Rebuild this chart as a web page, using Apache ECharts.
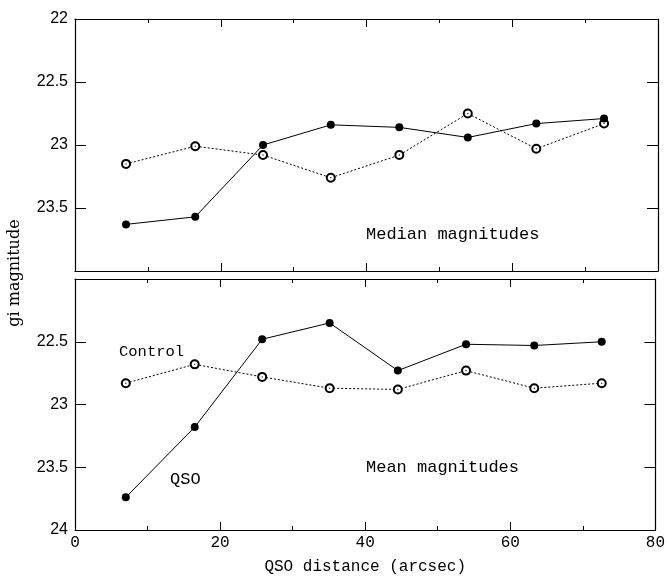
<!DOCTYPE html>
<html>
<head>
<meta charset="utf-8">
<script src="https://cdn.jsdelivr.net/npm/echarts@6/dist/echarts.min.js"></script>
<style>html,body{margin:0;padding:0;background:#fff;}#chart{width:668px;height:576px;}</style>
</head>
<body>
<div id="chart"></div>
<script>
const distance = [7.0, 16.5, 25.8, 35.1, 44.5, 53.9, 63.3, 72.6];
const qsoMedian = [23.63, 23.57, 23.00, 22.84, 22.86, 22.94, 22.83, 22.79];
const controlMedian = [23.15, 23.01, 23.08, 23.26, 23.08, 22.75, 23.03, 22.83];
const qsoMean = [23.74, 23.18, 22.48, 22.35, 22.73, 22.52, 22.53, 22.50];
const controlMean = [22.83, 22.68, 22.78, 22.87, 22.88, 22.73, 22.87, 22.83];
const xTicks = {min: 0, max: 80, interval: 20};
const yTicks = {min: 22, max: 24, interval: 0.5};

const pair = (xs, ys) => xs.map((x, i) => [x, ys[i]]);
const mono = '"Liberation Mono", "DejaVu Sans Mono", monospace';
const sans = '"Liberation Sans", Arial, sans-serif';

function xAx(gridIndex, position, showLabels) {
  return {
    type: 'value', gridIndex, position,
    min: xTicks.min, max: xTicks.max, interval: xTicks.interval,
    axisLine: {show: true, onZero: false, lineStyle: {color: '#000', width: 1.2}},
    axisTick: {show: true, inside: true, length: 8, lineStyle: {color: '#000'}},
    minorTick: {show: true, splitNumber: 2, length: 4, lineStyle: {color: '#000'}},
    splitLine: {show: false},
    axisLabel: {show: showLabels, color: '#000', fontFamily: mono, fontSize: 16, margin: 5},
    name: showLabels ? 'QSO distance (arcsec)' : '',
    nameLocation: 'middle', nameGap: 29,
    nameTextStyle: {color: '#000', fontFamily: mono, fontSize: 16}
  };
}
function yAx(gridIndex, position, showLabels, hideMin, hideMax) {
  return {
    type: 'value', gridIndex, position, inverse: true,
    min: yTicks.min, max: yTicks.max, interval: yTicks.interval,
    axisLine: {show: true, onZero: false, lineStyle: {color: '#000', width: 1.2}},
    axisTick: {show: true, inside: true, length: 11, lineStyle: {color: '#000'}},
    splitLine: {show: false},
    axisLabel: {show: showLabels, color: '#000', fontFamily: sans, fontSize: 16, margin: 7,
      showMinLabel: !hideMin, showMaxLabel: !hideMax}
  };
}
function qsoSeries(x, y, data) {
  return {type: 'line', xAxisIndex: x, yAxisIndex: y, data,
    symbol: 'circle', symbolSize: 8, itemStyle: {color: '#000'},
    lineStyle: {color: '#000', width: 1}, z: 3};
}
function ctrlSeries(x, y, data) {
  return [{type: 'line', xAxisIndex: x, yAxisIndex: y, data,
    symbol: 'emptyCircle', symbolSize: 8, itemStyle: {color: '#000', borderWidth: 0.9},
    lineStyle: {color: '#000', width: 1, type: [2, 2]}, z: 2},
  {type: 'scatter', xAxisIndex: x, yAxisIndex: y, data,
    symbol: 'circle', symbolSize: 1.5, itemStyle: {color: '#000'}, z: 4}];
}

const chart = echarts.init(document.getElementById('chart'), null, {renderer: 'canvas'});
chart.setOption({
  animation: false,
  backgroundColor: '#fff',
  grid: [
    {left: 75, right: 10, top: 19, height: 252},
    {left: 75, right: 10, top: 279, height: 252}
  ],
  xAxis: [xAx(0, 'bottom', false), xAx(0, 'top', false), xAx(1, 'bottom', true), xAx(1, 'top', false)],
  yAxis: [yAx(0, 'left', true, false, true), yAx(0, 'right', false), yAx(1, 'left', true, true, false), yAx(1, 'right', false)],
  series: [
    qsoSeries(0, 0, pair(distance, qsoMedian)),
    ...ctrlSeries(0, 0, pair(distance, controlMedian)),
    qsoSeries(2, 2, pair(distance, qsoMean)),
    ...ctrlSeries(2, 2, pair(distance, controlMean))
  ],
  graphic: [
    {type: 'text', left: 366, top: 226, style: {text: 'Median magnitudes', font: '17px ' + mono, fill: '#000'}},
    {type: 'text', left: 366, top: 459, style: {text: 'Mean magnitudes', font: '17px ' + mono, fill: '#000'}},
    {type: 'text', left: 119, top: 344, style: {text: 'Control', font: '15.5px ' + mono, fill: '#000'}},
    {type: 'text', left: 170, top: 471, style: {text: 'QSO', font: '17px ' + mono, fill: '#000'}},
    {type: 'text', x: 15, y: 273, rotation: Math.PI / 2,
      style: {text: 'gi magnitude', font: '16px "DejaVu Serif", serif', fill: '#000', textAlign: 'center', textVerticalAlign: 'middle'}}
  ]
});
</script>
</body>
</html>
